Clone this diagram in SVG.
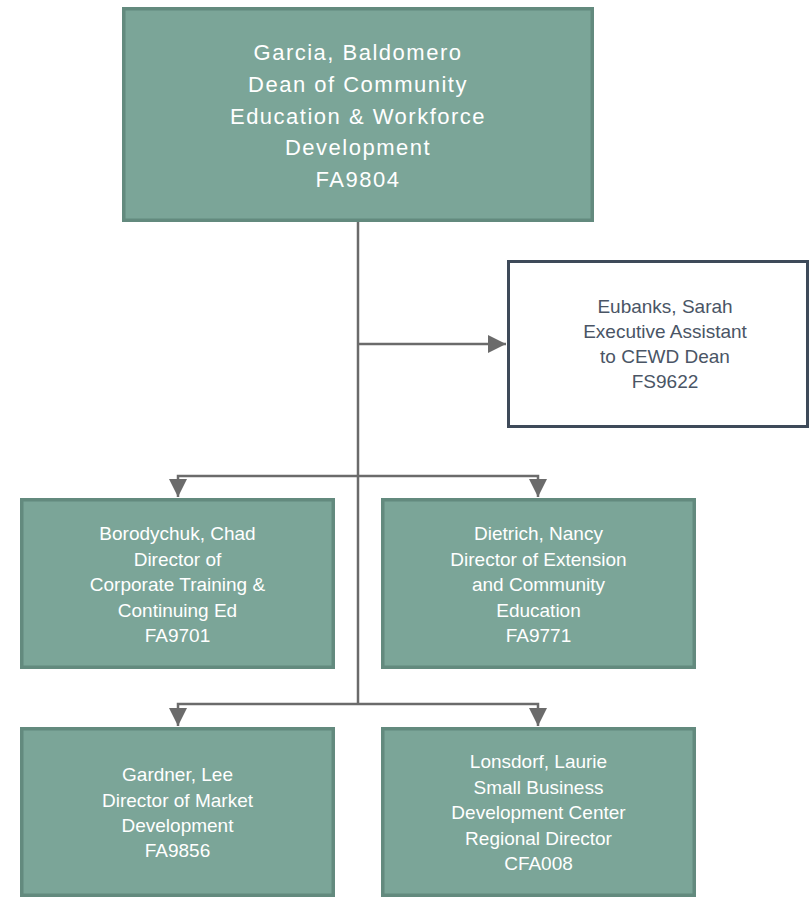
<svg xmlns="http://www.w3.org/2000/svg" width="811" height="898" viewBox="0 0 811 898">
<style>
.g{fill:#7ba598;stroke:#638a7e;stroke-width:3.5}
.w{fill:#ffffff;stroke:#3e4a59;stroke-width:3}
.t{font-family:"Liberation Sans",Arial,sans-serif;font-size:19px;fill:#ffffff;text-anchor:middle}
.tt{font-family:"Liberation Sans",Arial,sans-serif;font-size:22px;fill:#ffffff;text-anchor:middle;letter-spacing:1.5px}
.td{font-family:"Liberation Sans",Arial,sans-serif;font-size:19px;fill:#4a5565;text-anchor:middle}
.c{fill:none;stroke:#6b6b6b;stroke-width:2.5}
</style>
<defs>
<marker id="ah" markerUnits="userSpaceOnUse" markerWidth="18" markerHeight="18" viewBox="0 0 18 18" refX="18" refY="9" orient="auto">
<path d="M0 0 L18 9 L0 18 Z" fill="#6b6b6b"/>
</marker>
</defs>
<g id="connectors">
<path class="c" d="M358 222 V704"/>
<path class="c" d="M358 344 H506" marker-end="url(#ah)"/>
<path class="c" d="M358 476 H178 V497" marker-end="url(#ah)"/>
<path class="c" d="M358 476 H538 V497" marker-end="url(#ah)"/>
<path class="c" d="M358 704 H178 V726" marker-end="url(#ah)"/>
<path class="c" d="M358 704 H538 V726" marker-end="url(#ah)"/>
</g>
<g id="garcia">
<rect class="g" x="123.75" y="8.75" width="468.5" height="211.5"/>
<text class="tt" x="358" y="60">Garcia, Baldomero</text>
<text class="tt" x="358" y="92">Dean of Community</text>
<text class="tt" x="358" y="123.5">Education &amp; Workforce</text>
<text class="tt" x="358" y="155">Development</text>
<text class="tt" x="358" y="187">FA9804</text>
</g>
<g id="eubanks">
<rect class="w" x="508.5" y="261.5" width="299" height="165"/>
<text class="td" x="665" y="313">Eubanks, Sarah</text>
<text class="td" x="665" y="338">Executive Assistant</text>
<text class="td" x="665" y="363">to CEWD Dean</text>
<text class="td" x="665" y="388">FS9622</text>
</g>
<g id="borodychuk">
<rect class="g" x="21.75" y="499.75" width="311.5" height="167.5"/>
<text class="t" x="177.5" y="540">Borodychuk, Chad</text>
<text class="t" x="177.5" y="565.5">Director of</text>
<text class="t" x="177.5" y="591">Corporate Training &amp;</text>
<text class="t" x="177.5" y="616.5">Continuing Ed</text>
<text class="t" x="177.5" y="642">FA9701</text>
</g>
<g id="dietrich">
<rect class="g" x="382.75" y="499.75" width="311.5" height="167.5"/>
<text class="t" x="538.5" y="540">Dietrich, Nancy</text>
<text class="t" x="538.5" y="565.5">Director of Extension</text>
<text class="t" x="538.5" y="591">and Community</text>
<text class="t" x="538.5" y="616.5">Education</text>
<text class="t" x="538.5" y="642">FA9771</text>
</g>
<g id="gardner">
<rect class="g" x="21.75" y="728.75" width="311.5" height="166.5"/>
<text class="t" x="177.5" y="781">Gardner, Lee</text>
<text class="t" x="177.5" y="806.5">Director of Market</text>
<text class="t" x="177.5" y="832">Development</text>
<text class="t" x="177.5" y="857">FA9856</text>
</g>
<g id="lonsdorf">
<rect class="g" x="382.75" y="728.75" width="311.5" height="166.5"/>
<text class="t" x="538.5" y="768">Lonsdorf, Laurie</text>
<text class="t" x="538.5" y="793.5">Small Business</text>
<text class="t" x="538.5" y="819">Development Center</text>
<text class="t" x="538.5" y="844.5">Regional Director</text>
<text class="t" x="538.5" y="870">CFA008</text>
</g>
</svg>
